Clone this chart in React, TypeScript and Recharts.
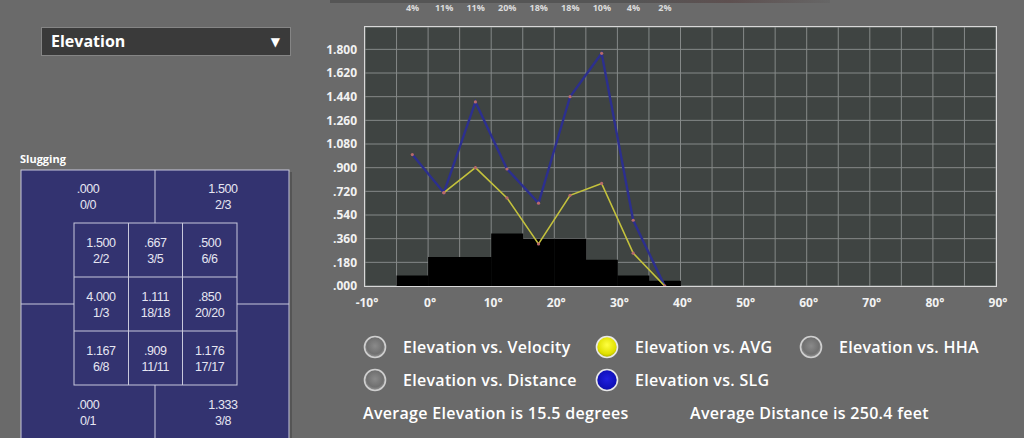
import React from "react";
import { ComposedChart, Bar, Line, XAxis, YAxis, CartesianGrid, LabelList } from "recharts";

// ---- data ----
const binCenters = [-2.5, 2.5, 7.5, 12.5, 17.5, 22.5, 27.5, 32.5, 37.5];
const binShare = [0.08, 0.22, 0.22, 0.4, 0.36, 0.36, 0.2, 0.08, 0.04];
const pctLabels = ["4%", "11%", "11%", "20%", "18%", "18%", "10%", "4%", "2%"];
const slgValues = [1.0, 0.71, 1.4, 0.89, 0.63, 1.44, 1.77, 0.5, 0.0];
const avgValues: (number | null)[] = [null, 0.71, 0.9, 0.67, 0.32, 0.69, 0.78, 0.25, 0.0];
const xTicks = [-10, -5, 0, 5, 10, 15, 20, 25, 30, 35, 40, 45, 50, 55, 60, 65, 70, 75, 80, 85, 90];
const yTicks = [0, 0.18, 0.36, 0.54, 0.72, 0.9, 1.08, 1.26, 1.44, 1.62, 1.8];

const zoneOuter = [
  { v: ".000", c: "0/0" },
  { v: "1.500", c: "2/3" },
  { v: ".000", c: "0/1" },
  { v: "1.333", c: "3/8" },
];
const zoneInner = [
  [{ v: "1.500", c: "2/2" }, { v: ".667", c: "3/5" }, { v: ".500", c: "6/6" }],
  [{ v: "4.000", c: "1/3" }, { v: "1.111", c: "18/18" }, { v: ".850", c: "20/20" }],
  [{ v: "1.167", c: "6/8" }, { v: ".909", c: "11/11" }, { v: "1.176", c: "17/17" }],
];

const legendItems = [
  { label: "Elevation vs. Velocity", kind: "gray", x: 375, y: 347 },
  { label: "Elevation vs. AVG", kind: "yellow", x: 607, y: 347 },
  { label: "Elevation vs. HHA", kind: "gray", x: 811, y: 347 },
  { label: "Elevation vs. Distance", kind: "gray", x: 375, y: 380 },
  { label: "Elevation vs. SLG", kind: "blue", x: 607, y: 380 },
];

const data = binCenters.map((x, i) => ({
  x,
  share: binShare[i],
  pct: pctLabels[i],
  slg: slgValues[i],
  avg: avgValues[i],
}));

const FONT = "'Open Sans', 'DejaVu Sans', sans-serif";

const fmtY = (v: number) => {
  const s = v.toFixed(3);
  return s.startsWith("0") ? s.slice(1) : s;
};

const XTick = (props: any) => {
  const { x, y, payload } = props;
  if (payload.value % 10 !== 0) return null;
  return (
    <text x={x + 2} y={y + 13} textAnchor="middle" fill="#f2f2f2" fontSize={12} fontWeight={700} fontFamily={FONT}>
      {payload.value + "°"}
    </text>
  );
};

const TopLabel = (props: any) => {
  const { x, width, value } = props;
  return (
    <text x={x + width / 2} y={11} textAnchor="middle" fill="#dcdcdc" fontSize={9} fontWeight={700} fontFamily={FONT}>
      {value}
    </text>
  );
};

const Dot = (props: any) => {
  const { cx, cy, value } = props;
  if (value === null || value === undefined || cx == null || cy == null) return null;
  return <circle cx={cx} cy={cy} r={1.6} fill="#b86a6a" />;
};

export default function App() {
  return (
    <div
      style={{
        position: "fixed",
        left: 0,
        top: 0,
        width: 1024,
        height: 438,
        background: "#6a6a6a",
        overflow: "hidden",
        fontFamily: FONT,
      }}
    >
      {/* top strip shadow */}
      <div
        style={{
          position: "absolute",
          left: 330,
          top: 0,
          width: 500,
          height: 3,
          background: "linear-gradient(90deg, #555 0%, #555 60%, #5e5050 80%, #666 100%)",
        }}
      />

      {/* dropdown */}
      <div
        style={{
          position: "absolute",
          left: 41,
          top: 27,
          width: 239,
          height: 27,
          background: "#3a3a3a",
          border: "1px solid #858585",
          color: "#fff",
          fontWeight: 700,
          fontSize: 16,
          lineHeight: "27px",
          paddingLeft: 9,
          boxSizing: "content-box",
        }}
      >
        Elevation
        <span style={{ position: "absolute", right: 10, top: 0, fontSize: 12 }}>▼</span>
      </div>

      {/* Slugging label */}
      <div style={{ position: "absolute", left: 20, top: 151, color: "#fff", fontWeight: 700, fontSize: 11 }}>
        Slugging
      </div>

      {/* strike zone + legend svg */}
      <svg width={1024} height={438} style={{ position: "absolute", left: 0, top: 0 }}>
        <defs>
          <radialGradient id="gGray" cx="50%" cy="45%" r="55%">
            <stop offset="0%" stopColor="#8a8a8a" />
            <stop offset="70%" stopColor="#707070" />
            <stop offset="100%" stopColor="#9a9a9a" />
          </radialGradient>
          <radialGradient id="gYellow" cx="50%" cy="40%" r="55%">
            <stop offset="0%" stopColor="#ffff40" />
            <stop offset="80%" stopColor="#e0e000" />
            <stop offset="100%" stopColor="#b8b800" />
          </radialGradient>
          <radialGradient id="gBlue" cx="50%" cy="45%" r="55%">
            <stop offset="0%" stopColor="#2020e0" />
            <stop offset="80%" stopColor="#1010b8" />
            <stop offset="100%" stopColor="#101090" />
          </radialGradient>
        </defs>
        <rect x={289} y={172} width={3} height={270} fill="#555" />
        <rect x={21} y={170} width={268} height={280} fill="#333370" stroke="#c8c8dc" strokeWidth={1} />
        <line x1={155} y1={170} x2={155} y2={223} stroke="#c8c8dc" />
        <line x1={155} y1={385} x2={155} y2={440} stroke="#c8c8dc" />
        <line x1={21} y1={304} x2={74} y2={304} stroke="#c8c8dc" />
        <line x1={237} y1={304} x2={289} y2={304} stroke="#c8c8dc" />
        <rect x={74} y={223} width={163} height={162} fill="none" stroke="#c8c8dc" />
        <line x1={128.5} y1={223} x2={128.5} y2={385} stroke="#c8c8dc" />
        <line x1={182.5} y1={223} x2={182.5} y2={385} stroke="#c8c8dc" />
        <line x1={74} y1={277} x2={237} y2={277} stroke="#c8c8dc" />
        <line x1={74} y1={331} x2={237} y2={331} stroke="#c8c8dc" />
        {zoneOuter.map((c, i) => {
          const cx = i % 2 === 0 ? 88 : 223;
          const cy = i < 2 ? 189 : 405;
          return (
            <g key={"o" + i} fontFamily="'Liberation Sans', Arial, sans-serif" fontSize={12.5} fill="#e6e6f2" textAnchor="middle">
              <text x={cx} y={cy + 4} letterSpacing={-0.4}>{c.v}</text>
              <text x={cx} y={cy + 20} letterSpacing={-0.4}>{c.c}</text>
            </g>
          );
        })}
        {zoneInner.map((row, r) =>
          row.map((c, k) => {
            const cx = 101 + k * 54.3;
            const cy = 243 + r * 54;
            return (
              <g key={"i" + r + k} fontFamily="'Liberation Sans', Arial, sans-serif" fontSize={12.5} fill="#e6e6f2" textAnchor="middle">
                <text x={cx} y={cy + 4} letterSpacing={-0.4}>{c.v}</text>
                <text x={cx} y={cy + 20} letterSpacing={-0.4}>{c.c}</text>
              </g>
            );
          })
        )}

        {legendItems.map((it, i) => (
          <g key={"l" + i}>
            <circle
              cx={it.x}
              cy={it.y}
              r={10.5}
              fill={it.kind === "gray" ? "url(#gGray)" : it.kind === "yellow" ? "url(#gYellow)" : "url(#gBlue)"}
              stroke={it.kind === "gray" ? "#cfcfcf" : "#e8e8e8"}
              strokeWidth={1.6}
            />
            <text
              x={it.x + 28}
              y={it.y + 5.5}
              fill="#ffffff"
              fontSize={16}
              fontWeight={600}
              letterSpacing={0.3}
              fontFamily={FONT}
            >
              {it.label}
            </text>
          </g>
        ))}
        <text x={363} y={419} fill="#fff" fontSize={16} fontWeight={600} letterSpacing={0.3} fontFamily={FONT}>
          Average Elevation is 15.5 degrees
        </text>
        <text x={690} y={419} fill="#fff" fontSize={16} fontWeight={600} letterSpacing={0.3} fontFamily={FONT}>
          Average Distance is 250.4 feet
        </text>
      </svg>

      {/* chart */}
      <div style={{ position: "absolute", left: 300, top: 0 }}>
        <ComposedChart
          width={724}
          height={320}
          data={data}
          margin={{ top: 27, right: 28, left: 0, bottom: 4 }}
          barCategoryGap={0}
          barGap={0}
        >
          <CartesianGrid stroke="#858988" strokeWidth={1} fill="#3f4442" fillOpacity={1} />
          <XAxis
            dataKey="x"
            type="number"
            domain={[-10, 90]}
            ticks={xTicks}
            interval={0}
            height={30}
            axisLine={false}
            tickLine={false}
            tick={<XTick />}
            allowDataOverflow
          />
          <YAxis
            type="number"
            domain={[0, 1.97]}
            ticks={yTicks}
            interval={0}
            width={65}
            axisLine={false}
            tickLine={false}
            tickSize={6}
            tickMargin={2}
            tickFormatter={fmtY}
            tick={{ fill: "#f2f2f2", fontSize: 12, fontWeight: 700, fontFamily: FONT }}
            allowDataOverflow
          />
          <Bar dataKey="share" fill="#000000" isAnimationActive={false}>
            <LabelList dataKey="pct" content={<TopLabel />} />
          </Bar>
          <Line
            dataKey="slg"
            type="linear"
            stroke="#2c2f8e"
            strokeWidth={2.4}
            dot={<Dot />}
            activeDot={false}
            isAnimationActive={false}
          />
          <Line
            dataKey="avg"
            type="linear"
            stroke="#c4c23c"
            strokeWidth={1.6}
            dot={<Dot />}
            activeDot={false}
            connectNulls={false}
            isAnimationActive={false}
          />
        </ComposedChart>
      </div>

      {/* plot border */}
      <div
        style={{
          position: "absolute",
          left: 364,
          top: 26,
          width: 631,
          height: 259,
          border: "1px solid #d8d8d8",
          pointerEvents: "none",
        }}
      />
    </div>
  );
}
